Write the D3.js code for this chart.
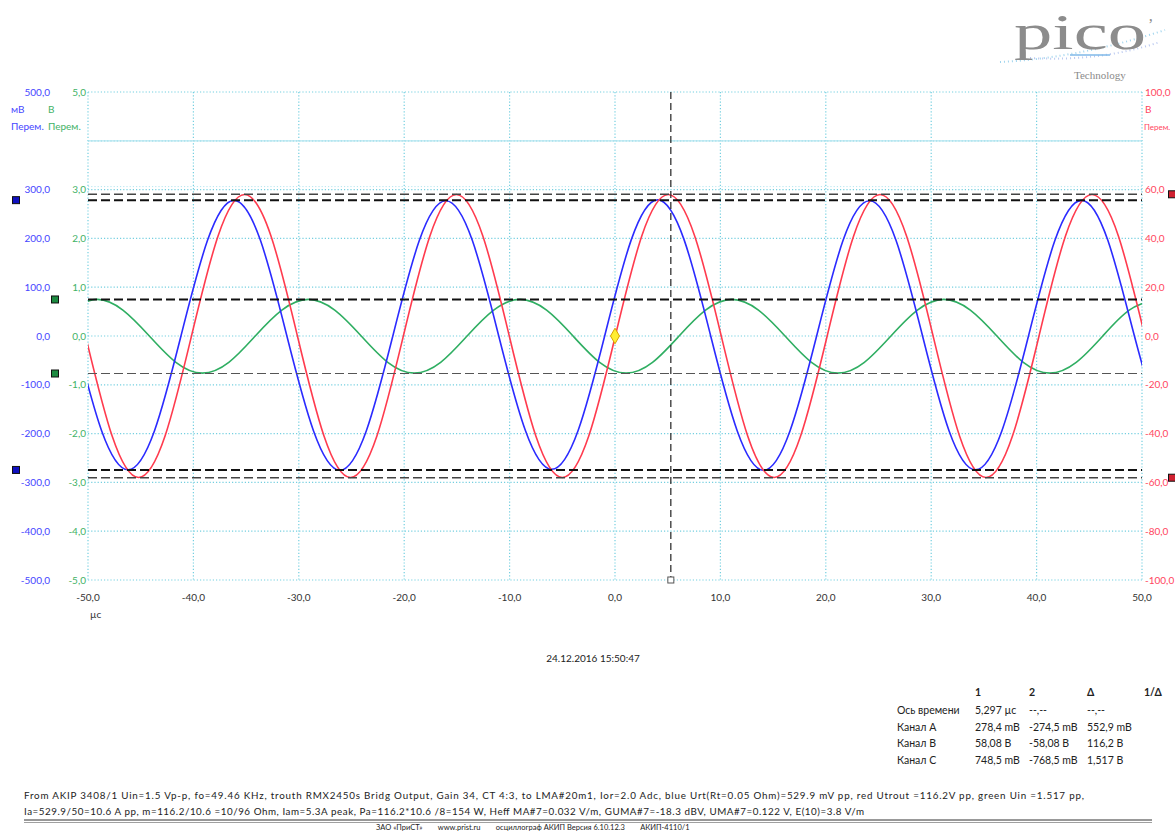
<!DOCTYPE html>
<html>
<head>
<meta charset="utf-8">
<script src="https://cdn.jsdelivr.net/npm/d3@7"></script>
<style>
body { margin: 0; background: #fff; }
text { font-family: Lato, "Open Sans", sans-serif; }
</style>
</head>
<body>
<div id="scope"></div>
<script>
// time axis, µs
let timeTicks = [-50, -40, -30, -20, -10, 0, 10, 20, 30, 40, 50];
// axis labels (the 400 / 4,0 / 80 rows carry the unit text instead)
let chanATicks = [500, 300, 200, 100, 0, -100, -200, -300, -400, -500];
let chanCTicks = [5, 3, 2, 1, 0, -1, -2, -3, -4, -5];
let chanBTicks = [100, 60, 40, 20, 0, -20, -40, -60, -80, -100];

// channel A (blue), mV
let blueT = [-51.23, -48.71, -46.20, -43.69, -41.18, -38.66, -36.15, -33.64, -31.13, -28.61, -26.10, -23.59, -21.08, -18.56, -16.05, -13.54, -11.03, -8.51, -6.00, -3.49, -0.98, 1.54, 4.05, 6.56, 9.08, 11.59, 14.10, 16.61, 19.13, 21.64, 24.15, 26.66, 29.18, 31.69, 34.20, 36.71, 39.23, 41.74, 44.25, 46.76, 49.28, 51.79];
let blueV = [0, -194, -274, -194, 0, 196, 278, 196, 0, -194, -275, -194, 0, 196, 277, 196, 0, -193, -273, -193, 0, 197, 279, 197, 0, -194, -275, -194, 0, 196, 277, 196, 0, -194, -274, -194, 0, 196, 278, 196, 0, -194];
// channel B (red), V
let redT = [-50.23, -47.71, -45.20, -42.69, -40.18, -37.66, -35.15, -32.64, -30.13, -27.61, -25.10, -22.59, -20.08, -17.56, -15.05, -12.54, -10.03, -7.51, -5.00, -2.49, 0.03, 2.54, 5.05, 7.56, 10.08, 12.59, 15.10, 17.61, 20.13, 22.64, 25.15, 27.66, 30.18, 32.69, 35.20, 37.71, 40.23, 42.74, 45.25, 47.76, 50.28, 52.79];
let redV = [0, -41, -58, -41, 0, 41, 58, 41, 0, -41, -58, -41, 0, 41, 58, 41, 0, -41, -58, -41, 0, 41, 58, 41, 0, -41, -58, -41, 0, 41, 58, 41, 0, -41, -58, -41, 0, 41, 58, 41, 0, -41];
// channel C (green), V
let greenT = [-51.71, -49.20, -46.69, -44.18, -41.66, -39.15, -36.64, -34.13, -31.61, -29.10, -26.59, -24.08, -21.56, -19.05, -16.54, -14.03, -11.51, -9.00, -6.49, -3.98, -1.46, 1.05, 3.56, 6.08, 8.59, 11.10, 13.61, 16.13, 18.64, 21.15, 23.66, 26.18, 28.69, 31.20, 33.71, 36.23, 38.74, 41.25, 43.76, 46.28, 48.79, 51.30];
let greenV = [0.53, 0.75, 0.53, 0, -0.54, -0.76, -0.54, 0, 0.53, 0.75, 0.53, 0, -0.54, -0.76, -0.54, 0, 0.53, 0.75, 0.53, 0, -0.54, -0.76, -0.54, 0, 0.53, 0.75, 0.53, 0, -0.54, -0.76, -0.54, 0, 0.53, 0.75, 0.53, 0, -0.54, -0.76, -0.54, 0, 0.53, 0.75];

// rulers
let timeCursor = [5.297];
let cursorA = [278.4, -274.5];
let cursorB = [58.08, -58.08];
let cursorC = [0.7485, -0.7685];

let tableHead = ["1", "2", "Δ", "1/Δ"];
let tableRows = [
    ["Ось времени", "5,297 µc", "--,--", "--,--"],
    ["Канал A", "278,4 mB", "-274,5 mB", "552,9 mB"],
    ["Канал B", "58,08 B", "-58,08 B", "116,2 B"],
    ["Канал C", "748,5 mB", "-768,5 mB", "1,517 B"]
];
let notes = [
    "From AKIP 3408/1 Uin=1.5 Vp-p, fo=49.46 KHz, trouth  RMX2450s Bridg Output, Gain 34, CT 4:3, to LMA#20m1, Ior=2.0 Adc,  blue Urt(Rt=0.05 Ohm)=529.9 mV pp, red Utrout =116.2V pp, green  Uin =1.517 pp,",
    "Ia=529.9/50=10.6 A pp,  m=116.2/10.6 =10/96 Ohm, Iam=5.3A peak, Pa=116.2*10.6 /8=154 W, Heff MA#7=0.032 V/m, GUMA#7=-18.3 dBV, UMA#7=0.122 V, E(10)=3.8 V/m",
    "ЗАО «ПриСТ»        www.prist.ru        осциллограф АКИП Версия 6.10.12.3        АКИП-4110/1"
];

let width = 1175, height = 832;
let pLeft = 88, pRight = 1142, pTop = 92, pBottom = 580;
let blue = "#2b2bff", red = "#ff3b4e", green = "#2fae62", grid = "#74cfe0";

let svg = d3.select("#scope").append("svg")
    .attr("width", width).attr("height", height);

let x = d3.scaleLinear().domain([-50, 50]).range([pLeft, pRight]);
let yA = d3.scaleLinear().domain([-500, 500]).range([pBottom, pTop]);
let yB = d3.scaleLinear().domain([-100, 100]).range([pBottom, pTop]);
let yC = d3.scaleLinear().domain([-5, 5]).range([pBottom, pTop]);

let fmt = v => d3.format(".1f")(v).replace(".", ",").replace("−", "-").replace(/^-0,0$/, "0,0");

// grid
let g = svg.append("g");
g.selectAll(".vg").data(timeTicks).enter().append("line")
    .attr("x1", d => x(d)).attr("x2", d => x(d))
    .attr("y1", pTop).attr("y2", pBottom)
    .attr("stroke", grid).attr("stroke-width", 1.2).attr("stroke-dasharray", "1.2,2");
g.selectAll(".hg").data(yA.ticks(10)).enter().append("line")
    .attr("x1", pLeft).attr("x2", pRight)
    .attr("y1", d => yA(d)).attr("y2", d => yA(d))
    .attr("stroke", grid).attr("stroke-width", 1.2).attr("stroke-dasharray", "1.2,2");
g.append("line").attr("x1", pLeft).attr("x2", pRight)
    .attr("y1", yA(400)).attr("y2", yA(400))
    .attr("stroke", "#b5e6f0").attr("stroke-width", 1.2);
g.append("line").attr("x1", pLeft).attr("x2", pRight)
    .attr("y1", yA(300) - 3).attr("y2", yA(300) - 3)
    .attr("stroke", "#b5e6f0").attr("stroke-width", 1).attr("stroke-dasharray", "1.2,2");

// axis labels
let lab = svg.append("g").style("font-size", "10px");
lab.selectAll(".la").data(chanATicks).enter().append("text")
    .attr("x", 50).attr("y", d => yA(d) + 3.5)
    .attr("text-anchor", "end").attr("fill", "#4646ff").text(fmt);
lab.selectAll(".lc").data(chanCTicks).enter().append("text")
    .attr("x", 86).attr("y", d => yC(d) + 3.5)
    .attr("text-anchor", "end").attr("fill", "#3fb266").text(fmt);
lab.selectAll(".lb").data(chanBTicks).enter().append("text")
    .attr("x", 1145).attr("y", d => yB(d) + 3.5)
    .attr("fill", "#ff4660").text(fmt);
lab.selectAll(".lt").data(timeTicks).enter().append("text")
    .attr("x", d => x(d)).attr("y", 601)
    .attr("text-anchor", "middle").attr("fill", "#333").text(fmt);
lab.append("text").attr("x", 90).attr("y", 618).attr("fill", "#333").text("µc");

// unit labels
lab.append("text").attr("x", 11).attr("y", 113).attr("fill", "#4646ff").text("мВ");
lab.append("text").attr("x", 48).attr("y", 113).attr("fill", "#3fb266").text("В");
lab.append("text").attr("x", 11).attr("y", 130).attr("fill", "#4646ff").text("Перем.");
lab.append("text").attr("x", 48).attr("y", 130).attr("fill", "#3fb266").text("Перем.");
lab.append("text").attr("x", 1145).attr("y", 113).attr("fill", "#ff4660").text("В");
lab.append("text").attr("x", 1144).attr("y", 130).attr("fill", "#ff4660")
    .style("font-size", "8px").text("Перем.");

// waveforms
svg.append("clipPath").attr("id", "plot")
    .append("rect").attr("x", pLeft).attr("y", pTop)
    .attr("width", pRight - pLeft).attr("height", pBottom - pTop);

function wave(ts, vs, y, color) {
    let line = d3.line()
        .x(d => x(d[0])).y(d => y(d[1]))
        .curve(d3.curveNatural);
    svg.append("path")
        .datum(ts.map((t, i) => [t, vs[i]]))
        .attr("clip-path", "url(#plot)")
        .attr("d", line)
        .attr("fill", "none")
        .attr("stroke", color)
        .attr("stroke-width", 1.6);
}
wave(greenT, greenV, yC, green);
wave(blueT, blueV, yA, blue);
wave(redT, redV, yB, red);

// rulers
function hRuler(v, y, w, col) {
    svg.append("line").attr("x1", pLeft).attr("x2", pRight)
        .attr("y1", y(v)).attr("y2", y(v))
        .attr("stroke", col).attr("stroke-width", w)
        .attr("stroke-dasharray", "9,4");
}
hRuler(cursorB[0], yB, 1.4, "#444");
hRuler(cursorA[0], yA, 2, "#111");
hRuler(cursorC[0], yC, 2, "#111");
hRuler(cursorC[1], yC, 1.2, "#555");
hRuler(cursorA[1], yA, 2, "#111");
hRuler(cursorB[1], yB, 1.4, "#444");

svg.selectAll(".vc").data(timeCursor).enter().append("line")
    .attr("x1", d => x(d)).attr("x2", d => x(d))
    .attr("y1", pTop).attr("y2", pBottom)
    .attr("stroke", "#222").attr("stroke-width", 1.2)
    .attr("stroke-dasharray", "7,4");
svg.selectAll(".vcm").data(timeCursor).enter().append("rect")
    .attr("x", d => x(d) - 3).attr("y", pBottom - 3)
    .attr("width", 6).attr("height", 6)
    .attr("fill", "#fff").attr("stroke", "#555");

// ruler handles
function handle(cx, cy, fill) {
    svg.append("rect").attr("x", cx - 3.5).attr("y", cy - 3.5)
        .attr("width", 7).attr("height", 7)
        .attr("fill", fill).attr("stroke", "#111").attr("stroke-width", 1);
}
cursorA.forEach(v => handle(16, yA(v), "#1010c0"));
cursorC.forEach(v => handle(55, yC(v), "#1c8a40"));
cursorB.forEach(v => handle(1172, yB(v), "#d02030"));

// trigger marker
svg.append("path")
    .attr("d", d3.symbol().type(d3.symbolDiamond).size(70))
    .attr("transform", `translate(${x(0)},${yB(0)})`)
    .attr("fill", "#ffee33").attr("stroke", "#d9a400").attr("stroke-width", 1);

// timestamp
svg.append("text").attr("x", 593).attr("y", 662)
    .attr("text-anchor", "middle").style("font-size", "10px").attr("fill", "#222")
    .text("24.12.2016 15:50:47");

// ruler table
let tbl = svg.append("g").style("font-size", "10.5px").attr("fill", "#222");
let colX = [975, 1029, 1087, 1144];
tbl.selectAll(".th").data(tableHead).enter().append("text")
    .attr("x", (d, i) => colX[i]).attr("y", 696)
    .style("font-weight", "bold").text(d => d);
tableRows.forEach((row, r) => {
    tbl.selectAll(".r" + r).data(row).enter().append("text")
        .attr("x", (d, i) => i === 0 ? 897 : colX[i - 1])
        .attr("y", 714 + r * 16.6)
        .text(d => d);
});

// notes
let nt = svg.append("g").style("font-size", "9.8px").attr("fill", "#222");
nt.append("text").attr("x", 24).attr("y", 799)
    .attr("textLength", 1060).attr("lengthAdjust", "spacing").text(notes[0]);
nt.append("text").attr("x", 24).attr("y", 815)
    .attr("textLength", 840).attr("lengthAdjust", "spacing").text(notes[1]);
svg.append("line").attr("x1", 24).attr("x2", 1152).attr("y1", 820).attr("y2", 820)
    .attr("stroke", "#333").attr("stroke-width", 1);
svg.append("line").attr("x1", 24).attr("x2", 1152).attr("y1", 822.5).attr("y2", 822.5)
    .attr("stroke", "#888").attr("stroke-width", 0.8);
nt.append("text").attr("x", 376).attr("y", 830)
    .attr("xml:space", "preserve").style("white-space", "pre")
    .style("font-size", "7.5px").text(notes[2]);

// logo
let logo = svg.append("g");
logo.append("path")
    .attr("d", "M1000,62 Q1080,58 1165,30")
    .attr("fill", "none").attr("stroke", "#9fd4ee").attr("stroke-width", 2)
    .attr("stroke-dasharray", "1,3");
logo.append("path")
    .attr("d", "M1030,58 Q1100,62 1160,42")
    .attr("fill", "none").attr("stroke", "#b9c8f0").attr("stroke-width", 2)
    .attr("stroke-dasharray", "1,3");
logo.append("path")
    .attr("d", "M1070,55 L1110,55")
    .attr("stroke", "#7fb8e8").attr("stroke-width", 1.5);
logo.append("text").attr("x", 1014).attr("y", 49)
    .attr("textLength", 132).attr("lengthAdjust", "spacingAndGlyphs")
    .style("font-family", "'Liberation Serif', 'DejaVu Serif', serif")
    .style("font-size", "50px").attr("fill", "#8c8c8c").text("pico");
logo.append("text").attr("x", 1148).attr("y", 30)
    .style("font-family", "'Liberation Serif', serif")
    .style("font-size", "16px").attr("fill", "#8c8c8c").text("’");
logo.append("text").attr("x", 1074).attr("y", 79)
    .style("font-family", "'Liberation Serif', serif")
    .style("font-size", "11px").attr("fill", "#8a8a8a").text("Technology");
</script>
</body>
</html>
